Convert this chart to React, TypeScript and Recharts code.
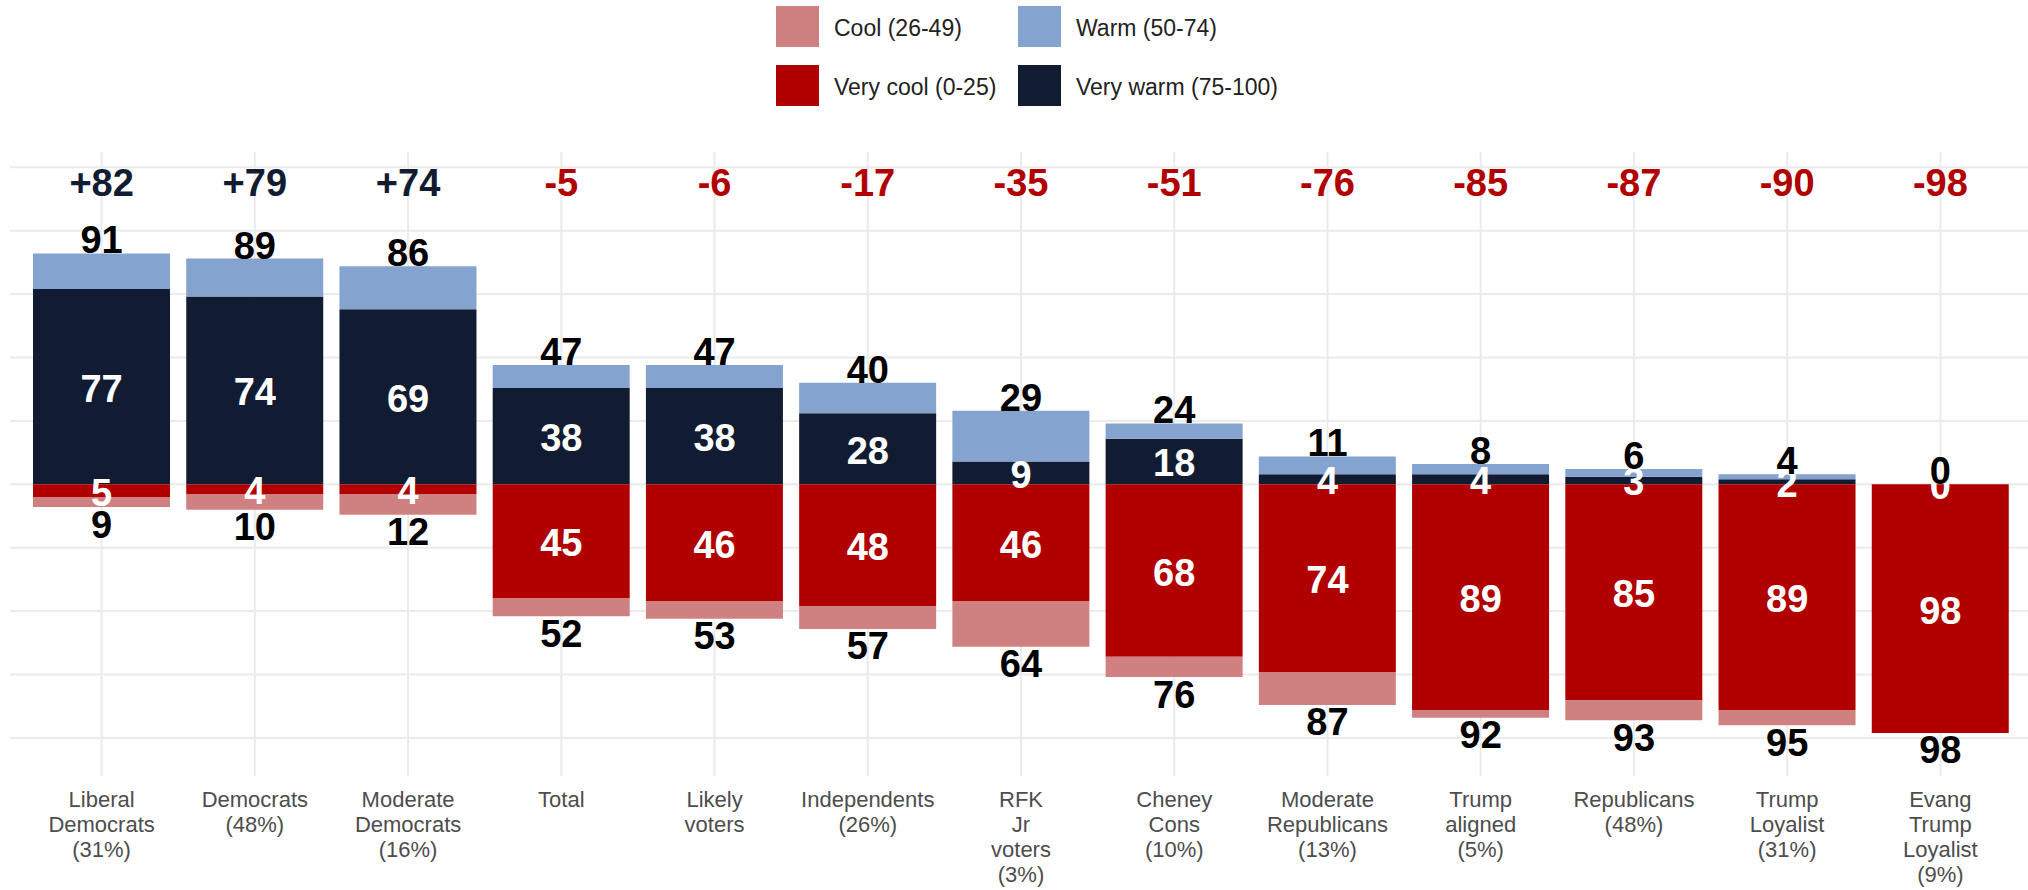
import React from 'react';
import { ComposedChart, Bar, Line, XAxis, YAxis, CartesianGrid, Legend, LabelList } from 'recharts';

const categories = [
  'Liberal\nDemocrats\n(31%)',
  'Democrats\n(48%)',
  'Moderate\nDemocrats\n(16%)',
  'Total',
  'Likely\nvoters',
  'Independents\n(26%)',
  'RFK\nJr\nvoters\n(3%)',
  'Cheney\nCons\n(10%)',
  'Moderate\nRepublicans\n(13%)',
  'Trump\naligned\n(5%)',
  'Republicans\n(48%)',
  'Trump\nLoyalist\n(31%)',
  'Evang\nTrump\nLoyalist\n(9%)',
];
const netRating = [82, 79, 74, -5, -6, -17, -35, -51, -76, -85, -87, -90, -98];
const warmTotal = [91, 89, 86, 47, 47, 40, 29, 24, 11, 8, 6, 4, 0];
const veryWarm = [77, 74, 69, 38, 38, 28, 9, 18, 4, 4, 3, 2, 0];
const coolTotal = [9, 10, 12, 52, 53, 57, 64, 76, 87, 92, 93, 95, 98];
const veryCool = [5, 4, 4, 45, 46, 48, 46, 68, 74, 89, 85, 89, 98];
const yTicks = [-100, -75, -50, -25, 0, 25, 50, 75, 100, 125];
const yDomain: [number, number] = [-115, 131];
const NET_LABEL_AT = 113.7;

const FONT = "'Liberation Sans', Arial, Helvetica, sans-serif";
const C_VERY_WARM = '#111C32';
const C_WARM = '#85A3CF';
const C_VERY_COOL = '#B10000';
const C_COOL = '#CF8080';

const NAME_VERY_WARM = 'Very warm (75-100)';
const NAME_WARM = 'Warm (50-74)';
const NAME_VERY_COOL = 'Very cool (0-25)';
const NAME_COOL = 'Cool (26-49)';

const data = categories.map((name, i) => ({
  name,
  net: netRating[i],
  warmTotal: warmTotal[i],
  veryWarm: veryWarm[i],
  coolTotal: coolTotal[i],
  veryCool: veryCool[i],
  veryWarmSeg: veryWarm[i],
  warmSeg: warmTotal[i] - veryWarm[i],
  veryCoolSeg: -veryCool[i],
  coolSeg: -(coolTotal[i] - veryCool[i]),
}));

const legendOrder = [
  { name: NAME_COOL, color: C_COOL },
  { name: NAME_WARM, color: C_WARM },
  { name: NAME_VERY_COOL, color: C_VERY_COOL },
  { name: NAME_VERY_WARM, color: C_VERY_WARM },
];

function LegendContent(props: any) {
  const payload: any[] = props.payload || [];
  const items = legendOrder.map((d) => {
    const p = payload.find((q) => q.value === d.name);
    return { name: d.name, color: (p && p.color) || d.color };
  });
  return (
    <div style={{ position: 'relative', width: 2028, height: 110 }}>
      <div
        style={{
          position: 'absolute',
          left: 776,
          top: 6,
          display: 'grid',
          gridTemplateColumns: '242px auto',
          rowGap: 18,
        }}
      >
        {items.map((it) => (
          <div key={it.name} style={{ display: 'flex', alignItems: 'center', height: 41 }}>
            <div style={{ width: 43, height: 41, background: it.color, flex: 'none' }} />
            <span
              style={{
                marginLeft: 15,
                fontSize: 23,
                color: '#222',
                fontFamily: FONT,
                position: 'relative',
                top: 2,
                lineHeight: 1,
                whiteSpace: 'nowrap',
              }}
            >
              {it.name}
            </span>
          </div>
        ))}
      </div>
    </div>
  );
}

function CategoryTick(props: any) {
  const { x, y, payload } = props;
  const lines = String(payload.value).split('\n');
  return (
    <text x={x} y={y} textAnchor="middle" fill="#4D4D4D" fontSize={22} fontFamily={FONT}>
      {lines.map((l, i) => (
        <tspan key={i} x={x} y={y + 31 + i * 25}>
          {l}
        </tspan>
      ))}
    </text>
  );
}

const pt = (props: any) => {
  const x = props.x ?? props.viewBox?.x ?? 0;
  const y = props.y ?? props.viewBox?.y ?? 0;
  return { x, y };
};

const makeLabel = (fill: string, dy: number) => (props: any) => {
  const { x, y } = pt(props);
  return (
    <text x={x} y={y + dy} textAnchor="middle" fill={fill} fontSize={38} fontWeight="bold" fontFamily={FONT}>
      {props.value}
    </text>
  );
};

const NetLabel = (props: any) => {
  const { x, y } = pt(props);
  const v = Number(props.value);
  return (
    <text
      x={x}
      y={y}
      textAnchor="middle"
      fill={v > 0 ? C_VERY_WARM : C_VERY_COOL}
      fontSize={38}
      fontWeight="bold"
      fontFamily={FONT}
    >
      {v > 0 ? `+${v}` : `${v}`}
    </text>
  );
};

const WhiteCenter = makeLabel('#FFFFFF', 15);
const BlackTop = makeLabel('#000000', 0);
const BlackBottom = makeLabel('#000000', 30.5);

const hiddenLine = {
  stroke: 'none',
  dot: false as const,
  activeDot: false as const,
  isAnimationActive: false,
  legendType: 'none' as const,
};

export default function App() {
  return (
    <div style={{ position: 'absolute', left: 0, top: 0, width: 2028, height: 890, overflow: 'hidden', background: '#fff' }}>
      <ComposedChart
        width={2032}
        height={890}
        data={data}
        stackOffset="sign"
        margin={{ top: 152, right: 0, bottom: 0, left: 10 }}
      >
        <CartesianGrid stroke="#EBEBEB" strokeWidth={2} syncWithTicks />
        <XAxis
          dataKey="name"
          interval={0}
          height={114}
          axisLine={false}
          tickLine={false}
          tickSize={0}
          tickMargin={0}
          padding={{ left: 15, right: 15 }}
          tick={<CategoryTick />}
        />
        <YAxis hide type="number" domain={yDomain} ticks={yTicks} allowDataOverflow />
        <Legend
          layout="vertical"
          verticalAlign="middle"
          align="center"
          wrapperStyle={{ top: 0, left: 0, width: 2028, height: 110 }}
          content={<LegendContent />}
        />
        <Bar dataKey="veryWarmSeg" name={NAME_VERY_WARM} stackId="s" fill={C_VERY_WARM} barSize={137} isAnimationActive={false} />
        <Bar dataKey="warmSeg" name={NAME_WARM} stackId="s" fill={C_WARM} barSize={137} isAnimationActive={false} />
        <Bar dataKey="veryCoolSeg" name={NAME_VERY_COOL} stackId="s" fill={C_VERY_COOL} barSize={137} isAnimationActive={false} />
        <Bar dataKey="coolSeg" name={NAME_COOL} stackId="s" fill={C_COOL} barSize={137} isAnimationActive={false} />
        <Line {...hiddenLine} dataKey={(d: any) => d.veryWarm / 2}>
          <LabelList dataKey="veryWarm" content={WhiteCenter} />
        </Line>
        <Line {...hiddenLine} dataKey={(d: any) => -d.veryCool / 2}>
          <LabelList dataKey="veryCool" content={WhiteCenter} />
        </Line>
        <Line {...hiddenLine} dataKey={(d: any) => d.warmTotal}>
          <LabelList dataKey="warmTotal" content={BlackTop} />
        </Line>
        <Line {...hiddenLine} dataKey={(d: any) => -d.coolTotal}>
          <LabelList dataKey="coolTotal" content={BlackBottom} />
        </Line>
        <Line {...hiddenLine} dataKey={() => NET_LABEL_AT}>
          <LabelList dataKey="net" content={NetLabel} />
        </Line>
      </ComposedChart>
    </div>
  );
}
